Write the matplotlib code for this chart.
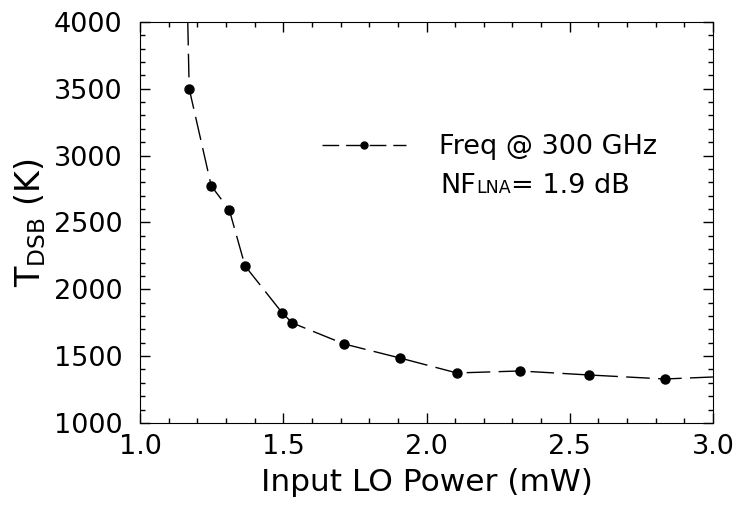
import matplotlib.pyplot as plt
from matplotlib.ticker import MultipleLocator
from matplotlib.offsetbox import TextArea, HPacker, AnchoredOffsetbox

# medidos: potencia de LO (mW) vs temperatura de ruido DSB (K)
lo_power = [1.171, 1.248, 1.311, 1.366, 1.496, 1.531, 1.712, 1.907,
            2.106, 2.326, 2.567, 2.832]
t_dsb = [3500, 2773, 2594, 2175, 1823, 1748, 1591, 1486,
         1374, 1389, 1359, 1329]

# la curva se prolonga fuera de los puntos medidos
curve_x = [1.166] + lo_power + [3.0]
curve_y = [4000] + t_dsb + [1344]

plt.rcParams['font.family'] = ['DejaVu Sans']
fig = plt.figure(figsize=(7.38, 5.19), dpi=100)
ax = fig.add_axes([0.190, 0.185, 0.776, 0.773])

ax.plot(curve_x, curve_y, color='black', lw=1, dashes=(17, 6))
ax.plot(lo_power, t_dsb, 'o', color='black', ms=6.5)

# entrada de leyenda: linea discontinua con marcador
ax.plot([], [], color='black', lw=1, dashes=(12, 5), marker='o', ms=5,
        label='Freq @ 300 GHz')
ax.legend(loc='upper left', bbox_to_anchor=(0.318, 0.72), frameon=False,
          fontsize=19.5, handlelength=3.1, handletextpad=1.2,
          borderpad=0, borderaxespad=0)

# NF con subindice LNA sobre la linea base
nf = HPacker(children=[TextArea('NF', textprops=dict(fontsize=19.5)),
                       TextArea('LNA', textprops=dict(fontsize=12.5)),
                       TextArea('= 1.9 dB', textprops=dict(fontsize=19.5))],
             align='baseline', pad=0, sep=0)
ax.add_artist(AnchoredOffsetbox(loc='lower left', child=nf, pad=0, borderpad=0,
                                frameon=False, bbox_to_anchor=(0.5236, 0.558),
                                bbox_transform=ax.transAxes))

ax.set_xlim(1.0, 3.0)
ax.set_ylim(1000, 4000)
ax.xaxis.set_major_locator(MultipleLocator(0.5))
ax.xaxis.set_minor_locator(MultipleLocator(0.1))
ax.yaxis.set_major_locator(MultipleLocator(500))
ax.yaxis.set_minor_locator(MultipleLocator(100))
ax.xaxis.set_major_formatter(plt.FormatStrFormatter('%.1f'))
ax.tick_params(which='both', direction='in', top=True, right=True,
               labelsize=19.5, width=1)
ax.tick_params(which='major', length=7)
ax.tick_params(which='minor', length=3.5)
ax.tick_params(axis='x', which='major', pad=8)
ax.tick_params(axis='y', which='major', pad=13)

ax.set_xlabel('Input LO Power (mW)', fontsize=22.5, labelpad=6)
ax.set_ylabel(r'T$_{\mathregular{DSB}}$ (K)', fontsize=24, labelpad=4)

fig.savefig('out.png', dpi=100)
